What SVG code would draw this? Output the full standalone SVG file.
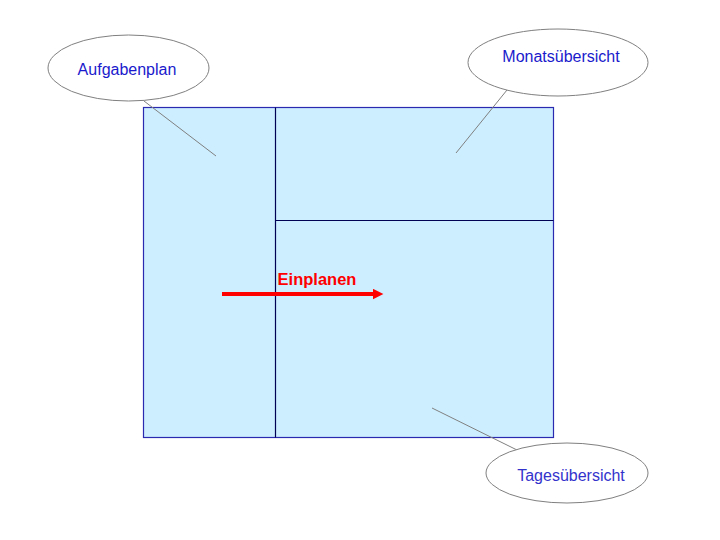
<svg xmlns="http://www.w3.org/2000/svg" width="720" height="540" viewBox="0 0 720 540">
<style>
.bubble{fill:#ffffff;stroke:#808080;stroke-width:1}
.lbl{font-family:"Liberation Sans",Arial,sans-serif;font-size:16px;fill:#1a1acc;text-anchor:middle}
.lead{stroke:#808080;stroke-width:1;fill:none}
.div{stroke:#000055;stroke-width:1.2;fill:none}
</style>
<defs>
<marker id="ah" markerWidth="3" markerHeight="3" refX="0.5" refY="1.3" orient="auto" markerUnits="strokeWidth">
<path d="M0,0 L2.6,1.3 L0,2.6 Z" fill="#ff0000"/>
</marker>
</defs>
<rect width="720" height="540" fill="#ffffff"/>
<g id="planner">
<rect x="143.5" y="107.5" width="410" height="330" fill="#cceeff" stroke="#2a2ab0" stroke-width="1.2"/>
<line class="div" x1="275.5" y1="107.5" x2="275.5" y2="437.5"/>
<line class="div" x1="275.5" y1="220.5" x2="553.5" y2="220.5"/>
</g>
<g id="connectors">
<line class="lead" x1="144" y1="101" x2="216" y2="156"/>
<line class="lead" x1="507" y1="90" x2="456" y2="153"/>
<line class="lead" x1="432" y1="408" x2="517" y2="450"/>
<line x1="222" y1="294" x2="375" y2="294" stroke="#ff0000" stroke-width="4" marker-end="url(#ah)"/>
<text x="317" y="285" font-family="'Liberation Sans',Arial,sans-serif" font-size="16.5" font-weight="bold" fill="#ff0000" text-anchor="middle">Einplanen</text>
</g>
<g id="aufgabenplan">
<ellipse class="bubble" cx="128.5" cy="68" rx="80.5" ry="33"/>
<text class="lbl" x="127" y="75">Aufgabenplan</text>
</g>
<g id="monatsuebersicht">
<ellipse class="bubble" cx="558" cy="62.5" rx="90" ry="33.5"/>
<text class="lbl" x="561" y="62">Monatsübersicht</text>
</g>
<g id="tagesuebersicht">
<ellipse class="bubble" cx="567" cy="473" rx="81" ry="30"/>
<text class="lbl" x="571" y="481" style="fill:#3333cc">Tagesübersicht</text>
</g>
</svg>
